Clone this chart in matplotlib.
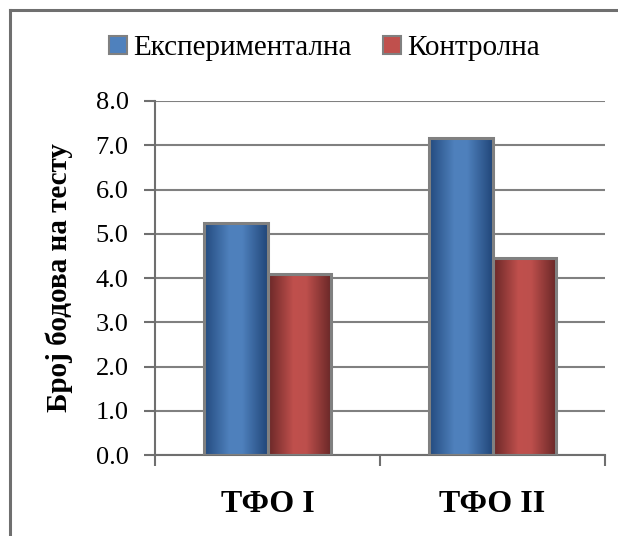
import numpy as np
import matplotlib
matplotlib.use("Agg")
import matplotlib.pyplot as plt
from matplotlib.colors import LinearSegmentedColormap
from matplotlib.patches import Patch
from matplotlib.lines import Line2D

plt.rcParams["font.family"] = ["Liberation Serif", "DejaVu Serif"]

grupe = ["ТФО I", "ТФО II"]
eksperimentalna = [5.24, 7.16]
kontrolna = [4.09, 4.45]
serije = ["Експериментална", "Контролна"]
y_oznake = ["0.0", "1.0", "2.0", "3.0", "4.0", "5.0", "6.0", "7.0", "8.0"]

plava = LinearSegmentedColormap.from_list(
    "plava", [(0, "#234a7e"), (0.4, "#4f81bd"), (0.6, "#4e80bc"), (1, "#214679")])
crvena = LinearSegmentedColormap.from_list(
    "crvena", [(0, "#692727"), (0.4, "#c0504d"), (0.6, "#bd4f4c"), (1, "#672626")])

fig = plt.figure(figsize=(6.18, 5.36), dpi=100)
ax = fig.add_axes([0.2508, 0.151, 0.7282, 0.6606])

x = np.arange(len(grupe))
w = 0.284
siva = "#808080"

def gradijent(barovi, cmap):
    grad = np.linspace(0, 1, 256).reshape(1, -1)
    for b in barovi:
        x0, y0 = b.get_x(), b.get_y()
        im = ax.imshow(grad, cmap=cmap, aspect="auto", zorder=2,
                       extent=[x0, x0 + b.get_width(), y0, y0 + b.get_height()])
        im.set_clip_path(b)

b1 = ax.bar(x - w / 2, eksperimentalna, w, facecolor="none", edgecolor=siva,
            linewidth=2.2, zorder=3)
b2 = ax.bar(x + w / 2, kontrolna, w, facecolor="none", edgecolor=siva,
            linewidth=2.2, zorder=3)
gradijent(b1, plava)
gradijent(b2, crvena)

ax.set_xlim(-0.5, 1.5)
ax.set_ylim(0, 8)
ax.set_yticks(np.arange(0, 9))
ax.set_yticklabels(y_oznake, fontsize=19)
ax.grid(axis="y", color=siva, linewidth=1.5, zorder=1)
ax.set_axisbelow(True)

ax.set_xticks([-0.5, 0.5, 1.5])
ax.set_xticklabels([])
ax.set_xticks(x, minor=True)
ax.set_xticklabels(grupe, minor=True, fontsize=23, fontweight="bold")
ax.tick_params(axis="x", which="minor", length=0, pad=25)
ax.tick_params(axis="x", which="major", length=8, width=1.5, color="#6f6f6f")
ax.tick_params(axis="y", length=8, width=1.5, color="#6f6f6f", pad=11)

for s in ["top", "right"]:
    ax.spines[s].set_visible(False)
for s in ["left", "bottom"]:
    ax.spines[s].set_color("#6f6f6f")
    ax.spines[s].set_linewidth(1.5)

ax.set_ylabel("Број бодова на тесту", fontsize=21, fontweight="bold", labelpad=16)

rucke = [Patch(facecolor="#4f81bd", edgecolor=siva, linewidth=1.5),
         Patch(facecolor="#c0504d", edgecolor=siva, linewidth=1.5)]
fig.legend(rucke, serije, loc="center", bbox_to_anchor=(0.525, 0.91), ncol=2,
           frameon=False, fontsize=21, handlelength=0.6, handleheight=0.6,
           handletextpad=0.2, columnspacing=1.1)

# okvir oko grafikona (vide se samo gornja i lijeva ivica)
fig.add_artist(Line2D([10 / 618, 10 / 618], [0, 1 - 10 / 536], color="#6f6f6f",
                      linewidth=2.2, transform=fig.transFigure))
fig.add_artist(Line2D([10 / 618, 1], [1 - 10 / 536, 1 - 10 / 536], color="#6f6f6f",
                      linewidth=2.2, transform=fig.transFigure))

fig.savefig("out.png", dpi=100)
